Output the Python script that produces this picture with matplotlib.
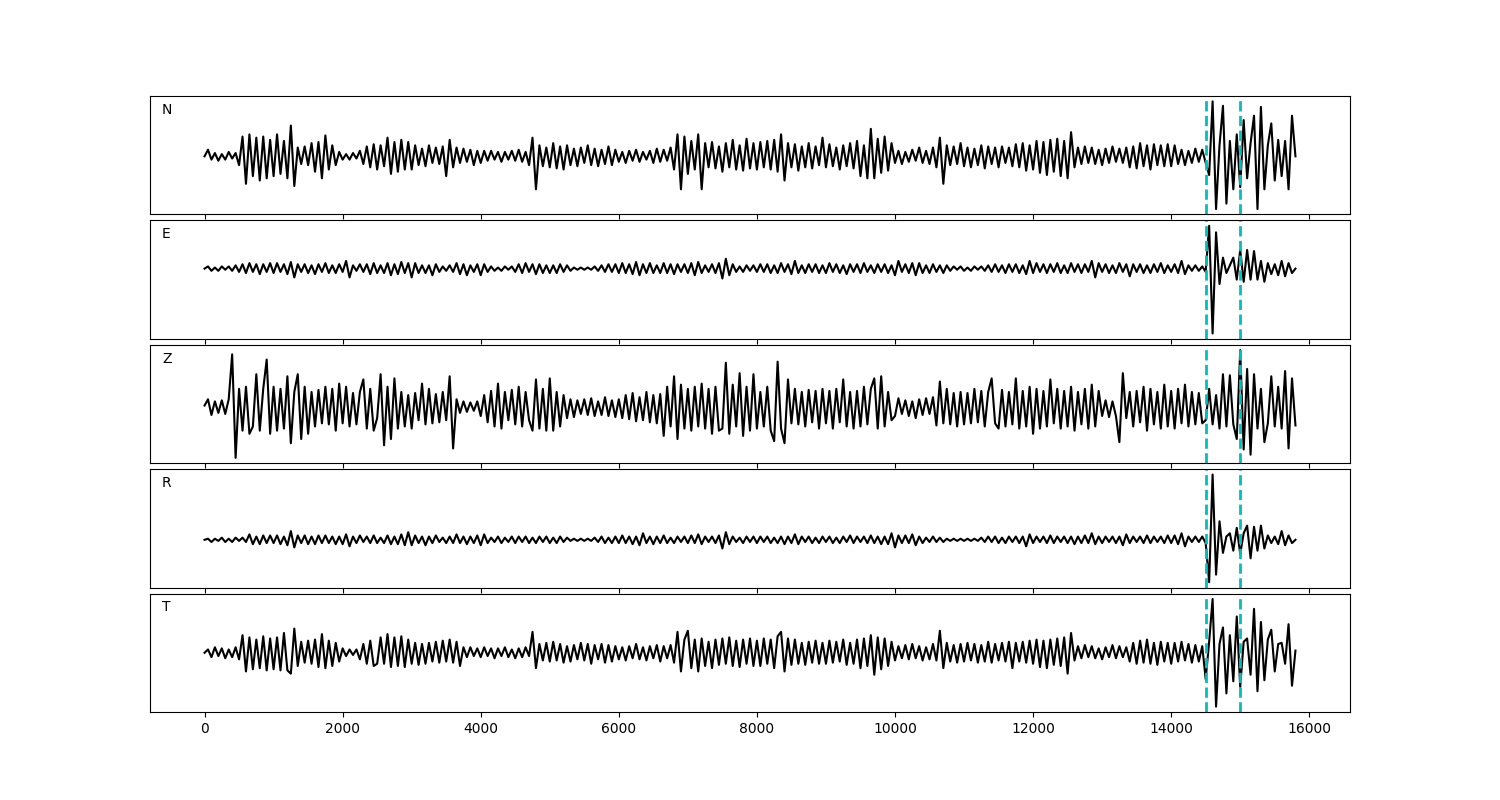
"""
5-component seismogram panels (N, E, Z, R, T) with two picks marked
"""
import numpy as np
import matplotlib
matplotlib.use('Agg')
import matplotlib.pyplot as plt

## sample interval of the traces (amplitudes)
dt = 50
picks = [14500, 15000]
names = ['N', 'E', 'Z', 'R', 'T']

n_trace = [
    0, 6, -3, 3, -4, 2, -3, 4, -2, 3, -8, 18, -25, 20, -18, 17, -22, 18, -20, 15,
    -18, 20, -16, 14, -20, 28, -27, 8, -7, 9, -8, 12, -14, 13, -20, 19, -12, 10, -8, 4,
    -3, 2, -3, 3, -2, 5, -7, 9, -10, 11, -12, 10, -9, 17, -16, 13, -14, 15, -12, 13,
    -12, 10, -8, 7, -9, 10, -6, 8, -7, 9, -18, 15, -10, 8, -6, 7, -5, 6, -8, 5,
    -6, 5, -4, 5, -3, 4, -5, 4, -3, 5, -4, 6, -5, 4, -8, 17, -30, 10, -9, 8,
    -10, 12, -11, 9, -12, 10, -8, 7, -9, 8, -6, 10, -8, 7, -9, 6, -7, 9, -8, 6,
    -5, 4, -6, 5, -4, 6, -5, 4, -3, 5, -6, 7, -5, 6, -4, 8, -12, 20, -30, 18,
    -16, 14, -12, 20, -30, 12, -10, 13, -11, 9, -14, 12, -10, 15, -12, 10, -13, 16, -11, 12,
    -12, 13, -10, 14, -12, 15, -14, 20, -22, 12, -10, 11, -13, 9, -10, 12, -11, 9, -8, 17,
    -10, 11, -9, 8, -12, 10, -9, 12, -11, 14, -18, 10, -20, 25, -20, 16, -15, 18, -13, 12,
    -6, 5, -7, 4, -5, 6, -4, 8, -6, 5, -7, 8, -10, 17, -25, 10, -8, 9, -7, 12,
    -9, 8, -10, 7, -8, 10, -11, 9, -7, 8, -10, 9, -6, 8, -9, 11, -10, 12, -13, 10,
    -12, 14, -15, 13, -17, 15, -14, 16, -18, 14, -20, 22, -10, 8, -7, 9, -6, 8, -7, 6,
    -8, 7, -6, 9, -5, 7, -6, 8, -10, 9, -11, 12, -9, 10, -12, 11, -8, 10, -9, 11,
    -9, 10, -7, 6, -8, 5, -6, 7, -5, 6, -6, -17, 50, -48, 10, 46, -43, 14, -30, 20,
    -28, 33, -20, 12, 37, -48, 45, -30, 10, 30, -22, 15, -18, 14, -30, 37, 0]

e_trace = [
    0, 2, -2, 1, -2, 2, -1, 2, -2, 3, -3, 4, -4, 5, -3, 4, -5, 4, -3, 5,
    -4, 5, -3, 4, -5, 6, -8, 4, -3, 4, -4, 3, -5, 4, -3, 5, -4, 3, -4, 4,
    -3, 7, -8, 3, -2, 4, -3, 4, -5, 5, -4, 3, -4, 5, -6, 4, -5, 6, -4, 5,
    -8, 5, -4, 3, -4, 3, -6, 4, -3, 2, -2, 3, -3, 5, -5, 4, -6, 3, -3, 4,
    -6, 4, -3, 2, -2, 1, -2, 2, -1, 2, -3, 4, -4, 5, -3, 4, -5, 4, -4, 3,
    -4, 3, -4, 4, -3, 3, -2, 1, -1, 1, -1, 1, -1, 2, -2, 3, -3, 4, -3, 4,
    -4, 5, -4, 4, -5, 6, -6, 4, -4, 5, -4, 3, -4, 5, -4, 4, -5, 4, -3, 4,
    -4, 5, -6, 6, -4, 3, -3, 4, -4, 5, -9, 9, -6, 4, -3, 2, -3, 3, -2, 3,
    -3, 4, -3, 4, -4, 3, -4, 5, -3, 4, -5, 7, -4, 3, -4, 4, -3, 4, -4, 3,
    -4, 5, -3, 4, -4, 3, -5, 4, -3, 4, -4, 5, -3, 3, -4, 4, -3, 4, -4, 3,
    -6, 7, -3, 4, -4, 5, -6, 5, -4, 3, -4, 4, -3, 3, -4, 3, -2, 2, -1, 2,
    -2, 1, -2, 2, -1, 2, -2, 3, -3, 4, -3, 3, -4, 4, -3, 4, -4, 3, -5, 7,
    -4, 5, -3, 4, -4, 4, -3, 5, -4, 3, -4, 5, -3, 4, -4, 4, -3, 7, -8, 5,
    -3, 4, -4, 3, -4, 5, -3, 4, -7, 4, -3, 4, -4, 3, -4, 4, -3, 5, -4, 3,
    -3, 4, -4, 7, -5, 3, -2, 3, -2, 2, -3, 39, -59, 33, -14, 10, -4, 3, 10, -10,
    17, -12, 17, -10, 16, -10, 7, -12, 5, -5, 4, -6, 7, -7, 5, -4, 0]

z_trace = [
    2, 8, -7, 6, -5, 7, -6, 8, 51, -48, 18, -22, 20, -25, -18, 32, -22, 18, 46, -25,
    20, -22, 18, -20, 30, -34, 15, 32, -30, 20, -25, 15, -18, 17, -15, 20, -16, 18, -22, 23,
    -15, 20, -18, 14, -16, 15, 27, -20, 18, -22, -10, 32, -36, 20, -30, 28, -20, 15, -18, 12,
    -20, 14, -12, 23, -16, 18, -15, 13, -14, 15, -12, 30, -39, 8, -5, 6, -4, 5, -3, 6,
    -8, 12, -14, 16, -18, 23, -20, 15, -12, 17, -16, 20, -18, 15, -12, -22, 27, -20, 18, -22,
    28, -22, 15, -18, 12, -10, 8, -9, 7, -6, 8, -7, 9, -8, 6, -7, 10, -8, 7, -9,
    8, -10, 12, -11, 14, -13, 10, -12, 15, -14, 12, -15, 13, -27, 20, -18, 30, -30, 22, -20,
    18, -22, 20, -18, 23, -20, 18, -25, 20, -22, -20, 43, -25, 22, -18, 33, -27, 20, -22, 32,
    -20, 15, -18, 20, -22, -32, 44, -20, -34, 27, -15, 18, -16, 15, -18, 17, -14, 16, -20, 18,
    -15, 16, -20, 18, -14, 27, -18, 15, -20, 16, -18, 20, -16, 18, 28, -20, 30, -18, 15, -12,
    -8, 9, -6, 7, -8, 6, -10, 8, -7, 9, -6, 10, -17, 25, -15, 18, -16, 14, -18, 15,
    -16, 14, -15, 18, -14, 16, -18, 15, 28, -15, -20, 17, -18, 15, -16, 28, -20, 16, -18, 20,
    -25, 18, -20, 16, -18, 27, -15, 18, -20, 16, -18, 20, -22, 15, -16, 18, -20, 22, -18, 16,
    -8, 7, -9, 6, -8, -33, 33, -10, 15, -18, 16, -14, 20, -22, 18, -16, 15, -20, 22, -18,
    16, -20, 18, -15, 22, -18, 15, -16, 14, -15, -12, 18, -16, 12, -20, 32, -18, 31, -16, -30,
    55, -40, 37, -45, 32, -20, 18, -33, -15, 30, -18, 20, -20, 35, -39, 28, -17]

r_trace = [
    0, 1, -2, 1, -1, 2, -2, 1, -2, 2, -1, 2, -2, 5, -4, 3, -4, 4, -3, 4,
    -3, 4, -4, 3, -5, 8, -7, 4, -3, 4, -4, 3, -4, 4, -3, 4, -3, 3, -4, 3,
    -4, 5, -6, 3, -3, 4, -2, 3, -3, 4, -3, 2, -3, 4, -4, 3, -4, 5, -5, 7,
    -5, 4, -3, 3, -5, 3, -3, 4, -2, 2, -3, 3, -3, 5, -3, 3, -4, 3, -3, 4,
    -5, 5, -3, 2, -2, 3, -3, 2, -2, 3, -3, 3, -2, 3, -3, 2, -3, 3, -2, 3,
    -3, 2, -3, 3, -2, 2, -1, 1, -1, 1, -1, 1, -1, 2, -2, 3, -3, 2, -3, 3,
    -3, 4, -3, 3, -4, 3, -5, 6, -3, 3, -4, 3, -3, 4, -3, 2, -3, 3, -2, 3,
    -3, 4, -3, 5, -4, 3, -2, 3, -3, 4, -8, 7, -4, 3, -2, 2, -3, 3, -2, 3,
    -3, 3, -2, 3, -3, 2, -3, 3, -4, 3, -3, 5, -4, 3, -2, 3, -3, 2, -3, 3,
    -2, 3, -3, 2, -3, 3, -2, 4, -3, 3, -2, 3, -3, 4, -3, 3, -4, 3, -4, 6,
    -7, 4, -3, 4, -3, 5, -5, 3, -3, 2, -2, 3, -2, 2, -2, 1, -1, 1, -1, 1,
    -1, 1, -1, 1, -1, 2, -2, 3, -2, 3, -3, 2, -3, 3, -2, 3, -3, 3, -6, 5,
    -3, 3, -2, 3, -3, 4, -3, 3, -2, 3, -3, 3, -4, 3, -3, 4, -3, 6, -4, 3,
    -3, 3, -2, 3, -3, 3, -5, 5, -3, 3, -2, 3, -3, 4, -3, 3, -2, 3, -3, 4,
    -3, 4, -4, 6, -6, 3, -2, 3, -2, 3, -3, -39, 60, -32, 17, -12, 3, 6, -10, 11,
    -13, 6, 13, -17, 12, -10, 13, -8, 4, -3, 3, -4, 8, -5, 4, -3, 0]

t_trace = [
    0, 3, -4, 5, -3, 4, -5, 3, -4, 5, -6, 16, -17, 14, -15, 12, -14, 15, -16, 13,
    -15, 14, -16, 18, -16, -19, 22, -12, 10, -9, 11, -10, 12, -13, 17, -14, 11, -12, 9, -8,
    4, -3, 3, -2, 3, -6, 8, -10, 11, -12, -10, 14, -10, 17, -13, 14, -12, 15, -13, 12,
    -10, 9, -11, 8, -10, 9, -8, 10, -9, 11, -8, 12, -9, 10, -12, 5, -4, 5, -3, 4,
    -4, 5, -3, 4, -5, 4, -3, 5, -4, 3, -5, 4, -4, 5, -3, 19, -14, 8, -7, 9,
    -8, 10, -7, 8, -9, 6, -8, 7, -6, 9, -7, 8, -10, 7, -6, 8, -9, 7, -8, 6,
    -6, 5, -7, 6, -5, 8, -6, 5, -7, 6, -5, 7, -8, 6, -5, 7, -9, 19, -17, 12,
    20, -14, 12, -17, 13, -12, 10, -14, 12, -11, 13, -10, 14, -12, 11, -13, 12, -10, 13, -12,
    11, -12, 13, -10, 12, -14, 15, 19, -17, 13, -11, 12, -10, 9, -11, 10, -9, 11, -10, 9,
    -10, 11, -9, 10, -8, 12, -11, 9, -10, 12, -14, 13, -12, 16, -20, 14, -15, 13, -12, 10,
    -7, 6, -5, 7, -6, 8, -5, 6, -7, 5, -6, 8, -7, 20, -14, 9, -8, 7, -9, 8,
    -8, 9, -7, 8, -9, 7, -8, 10, -9, 8, -7, 9, -8, 10, -14, 9, -8, 10, -9, 11,
    -10, 12, -13, 11, -14, 12, -11, 13, -12, 14, -19, 18, -7, 6, -5, 7, -4, 6, -5, 4,
    -6, 5, -4, 7, -5, 6, -4, 5, -8, 9, -10, 11, -9, 12, -10, 9, -11, 10, -8, 9,
    -10, 9, -8, 10, -7, 8, -9, 7, -8, 6, -24, 10, 49, -49, 8, 23, -37, 16, -26, 33,
    -31, 10, 13, -20, 40, -35, 28, -25, 12, 21, -17, 8, 9, -10, 26, -30, 2]

traces = [n_trace, e_trace, z_trace, r_trace, t_trace]

fig, axes = plt.subplots(5, 1, sharex=True, figsize=(15, 8), dpi=100)
fig.subplots_adjust(left=0.1, right=0.9, top=0.88, bottom=0.11, hspace=0.05)

for ax, name, tr in zip(axes, names, traces):
    t = np.arange(len(tr)) * dt
    ax.plot(t, tr, color='k', linewidth=1.5)
    for p in picks:
        ax.axvline(p, color='c', linestyle='--', linewidth=2)
    ax.set_yticks([])
    ax.text(0.01, 0.85, name, transform=ax.transAxes)

plt.savefig('out.png', dpi=100)
